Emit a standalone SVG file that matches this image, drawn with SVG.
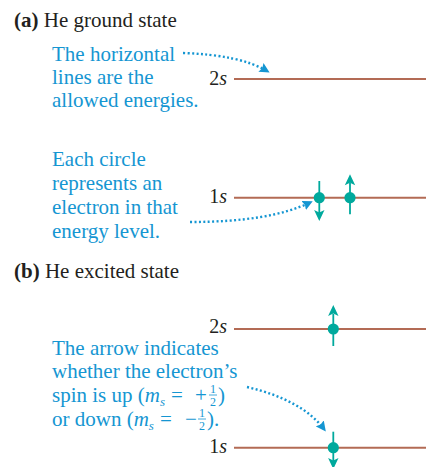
<svg xmlns="http://www.w3.org/2000/svg" xmlns:xlink="http://www.w3.org/1999/xlink" width="426" height="467" viewBox="0 0 426 467">
<style>
.title{font-family:"Liberation Serif","Times New Roman",serif;font-size:21px;fill:#231f20}
.note{font-family:"Liberation Serif","Times New Roman",serif;font-size:21px;fill:#1596d2}
.lbl{font-family:"Liberation Serif","Times New Roman",serif;font-size:20px;fill:#231f20;text-anchor:end}
.fr{font-size:12px;text-anchor:middle}
.level{stroke:#b36b55;stroke-width:2;fill:none}
.shaft{stroke:#00a99d;stroke-width:1.8;fill:none}
.dot{fill:#00a99d}
.call{stroke:#1596d2;stroke-width:2.4;stroke-dasharray:2 2.4;fill:none}
.bar{stroke:#1596d2;stroke-width:0.8}
</style>
<defs>
<path id="head" d="M0,0 L5.2,11 L0,8.5 L-5.2,11 Z" fill="#00a99d"/>
<marker id="callhead" viewBox="0 0 10 10" refX="7" refY="5" markerWidth="4.2" markerHeight="4.2" orient="auto" markerUnits="strokeWidth">
<path d="M0,0 L10,5 L0,10 L1.5,5 Z" fill="#1596d2"/>
</marker>
</defs>

<g id="title-a"><text class="title" x="14" y="27"><tspan font-weight="bold">(a)</tspan> He ground state</text></g>
<g id="title-b"><text class="title" x="14" y="278"><tspan font-weight="bold">(b)</tspan> He excited state</text></g>

<g id="note-horizontal">
<text class="note" x="52" y="61">The horizontal</text>
<text class="note" x="52" y="84">lines are the</text>
<text class="note" x="52" y="107">allowed energies.</text>
</g>
<g id="note-circle">
<text class="note" x="52" y="166">Each circle</text>
<text class="note" x="52" y="190">represents an</text>
<text class="note" x="52" y="214">electron in that</text>
<text class="note" x="52" y="238">energy level.</text>
</g>
<g id="note-arrow">
<text class="note" x="52" y="355">The arrow indicates</text>
<text class="note" x="52" y="378">whether the electron’s</text>
<text class="note" x="52" y="402">spin is up (<tspan font-style="italic">m</tspan><tspan font-style="italic" font-size="13" dy="3.5">s</tspan><tspan x="171" dy="-3.5">=</tspan><tspan x="195">+</tspan><tspan class="fr" x="213" dy="-9">1</tspan><tspan class="fr" x="213" dy="12.5">2</tspan><tspan x="218" dy="-3.5">)</tspan></text>
<line class="bar" x1="209" y1="395" x2="217" y2="395"/>
<text class="note" x="52" y="426">or down (<tspan font-style="italic">m</tspan><tspan font-style="italic" font-size="13" dy="3.5">s</tspan><tspan x="160" dy="-3.5">=</tspan><tspan x="185">−</tspan><tspan class="fr" x="202" dy="-9">1</tspan><tspan class="fr" x="202" dy="12.5">2</tspan><tspan x="207" dy="-3.5">).</tspan></text>
<line class="bar" x1="198" y1="419" x2="206" y2="419"/>
</g>

<g id="level-a-2s">
<line class="level" x1="234" y1="79" x2="426" y2="79"/>
<text class="lbl" x="227" y="85">2<tspan font-style="italic">s</tspan></text>
</g>
<g id="level-a-1s">
<line class="level" x1="234" y1="197.7" x2="426" y2="197.7"/>
<text class="lbl" x="227" y="203">1<tspan font-style="italic">s</tspan></text>
</g>
<g id="level-b-2s">
<line class="level" x1="234" y1="329" x2="426" y2="329"/>
<text class="lbl" x="227" y="333">2<tspan font-style="italic">s</tspan></text>
</g>
<g id="level-b-1s">
<line class="level" x1="234" y1="447.7" x2="426" y2="447.7"/>
<text class="lbl" x="227" y="453">1<tspan font-style="italic">s</tspan></text>
</g>

<g id="electron-a-down">
<line class="shaft" x1="319.3" y1="181" x2="319.3" y2="213"/>
<circle class="dot" cx="319.3" cy="197.7" r="5.6"/>
<use xlink:href="#head" href="#head" transform="translate(319.3,221) rotate(180)"/>
</g>
<g id="electron-a-up">
<line class="shaft" x1="350" y1="183" x2="350" y2="214.3"/>
<circle class="dot" cx="350" cy="197.7" r="5.6"/>
<use xlink:href="#head" href="#head" transform="translate(350,174.3)"/>
</g>
<g id="electron-b-up">
<line class="shaft" x1="333.3" y1="314" x2="333.3" y2="346"/>
<circle class="dot" cx="333.3" cy="329" r="5.6"/>
<use xlink:href="#head" href="#head" transform="translate(333.3,305)"/>
</g>
<g id="electron-b-down">
<line class="shaft" x1="333.3" y1="431.7" x2="333.3" y2="462"/>
<circle class="dot" cx="333.3" cy="447.7" r="5.6"/>
<use xlink:href="#head" href="#head" transform="translate(333.3,469) rotate(180)"/>
</g>

<g id="connectors">
<path class="call" d="M183,53 Q240,55 267,71" marker-end="url(#callhead)"/>
<path class="call" d="M190,222 Q270,222 310,202.5" marker-end="url(#callhead)"/>
<path class="call" d="M247,387 Q302,400 324,429" marker-end="url(#callhead)"/>
</g>
</svg>
